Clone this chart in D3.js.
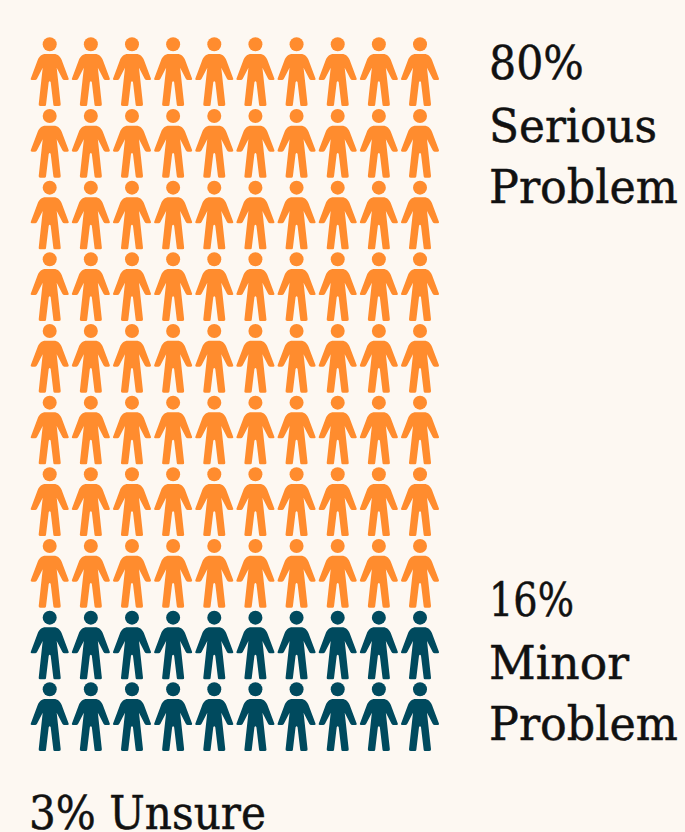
<!DOCTYPE html>
<html><head><meta charset="utf-8">
<script src="https://cdn.jsdelivr.net/npm/d3@7"></script>
<style>html,body{margin:0;padding:0;background:#fdf8f2;overflow:hidden}svg{display:block}</style>
</head><body><svg id="c" width="685" height="832"></svg>
<script>
const iconCategories = ["Serious Problem", "Minor Problem"];
const iconCounts = [80, 20];
const iconColors = ["#ff8c2e", "#004a5e"];
const columns = d3.range(10);
const rows = d3.range(10);
const labelLines = [
  ["80%", 489, 79], ["Serious", 489, 142], ["Problem", 489, 203],
  ["16%", 489, 616], ["Minor", 489, 679], ["Problem", 489, 740],
  ["3% Unsure", 29, 829]
];
const labelWidths = {"80%": 95, "Serious": 168, "Problem": 189, "16%": 85, "Minor": 140, "3% Unsure": 237};

const svg = d3.select("#c");
svg.append("rect").attr("width", 685).attr("height", 832).attr("fill", "#fdf8f2");

const x = d3.scalePoint().domain(columns).range([49.7, 420]);
const y = d3.scalePoint().domain(rows).range([44.3, 689.3]);
const color = d3.scaleOrdinal().domain(iconCategories).range(iconColors);

const people = [];
iconCategories.forEach((c, i) => d3.range(iconCounts[i]).forEach(() => people.push(c)));

const body = "M-12 29L12 29C25 29 32 37 36 47L57 103Q58 107 53 107L44 107Q40 107 38 103L21 70L33 180Q34 185 28 185L15 185Q11 185 11 181L3 114Q0 108-3 114L-11 181Q-11 185-15 185L-28 185Q-34 185-33 180L-21 70L-38 103Q-40 107-44 107L-53 107Q-58 107-57 103L-36 47C-32 37-25 29-12 29Z";

const g = svg.selectAll("g.person").data(people).join("g")
  .attr("class", "person")
  .attr("fill", d => color(d));
g.attr("transform", (d, i) => `translate(${x(i % 10)},${y(Math.floor(i / 10))}) scale(${1/3})`);
g.append("circle").attr("r", 21);
g.append("path").attr("d", body);

svg.selectAll("text.lab").data(labelLines).join("text")
  .attr("class", "lab")
  .attr("font-family", "'DejaVu Serif', serif")
  .attr("font-size", 47)
  .attr("fill", "#111")
  .attr("stroke", "#111")
  .attr("stroke-width", 0.5)
  .text(d => d[0])
  .attr("transform", function(d) {
    const sx = labelWidths[d[0]] / this.getComputedTextLength();
    return `translate(${d[1]},${d[2]}) scale(${sx},1)`;
  });
</script></body></html>
